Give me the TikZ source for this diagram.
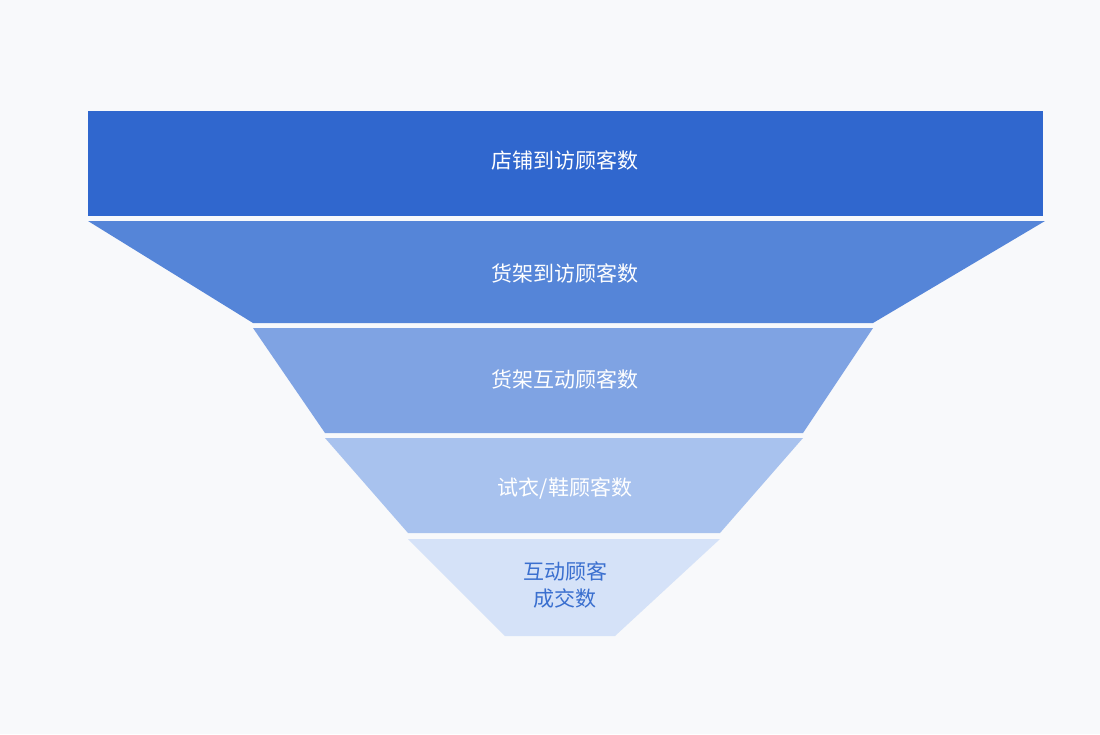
\documentclass[tikz,border=0pt]{standalone}
\usepackage{fontspec}
\setmainfont{Noto Sans CJK SC}
\definecolor{bg}{HTML}{F8F9FB}
\definecolor{lvone}{HTML}{3067CE}
\definecolor{lvtwo}{HTML}{5585D8}
\definecolor{lvthree}{HTML}{7FA3E3}
\definecolor{lvfour}{HTML}{A8C2EE}
\definecolor{lvfive}{HTML}{D5E2F8}
\definecolor{bluetext}{HTML}{3A6FCF}
\tikzset{
  label/.style={font=\fontsize{21}{27}\selectfont, text=white, align=center},
}
\begin{document}
\begin{tikzpicture}[x=1pt,y=-1pt]

	\fill[bg] (0,0) rectangle (1100,734);
	\useasboundingbox (0,0) rectangle (1100,734);

	\fill[lvone] (88,111) rectangle (1043,216);
	\fill[lvtwo] (88,221) -- (1045,221) -- (873,323) -- (253,323) -- cycle;
	\fill[lvthree] (253,328) -- (873,328) -- (803,433) -- (325,433) -- cycle;
	\fill[lvfour] (325,438) -- (803,438) -- (720,533) -- (408,533) -- cycle;
	\fill[lvfive] (408,539) -- (720,539) -- (615,636) -- (505,636) -- cycle;

   \node[label] (shop) at (565,160) {店铺到访顾客数};
   \node[label] (shelf) at (565,273) {货架到访顾客数};
   \node[label] (touch) at (565,379) {货架互动顾客数};
   \node[label] (try) at (565,488) {试衣/鞋顾客数};
   \node[label, text=bluetext] (deal) at (565,585) {互动顾客\\成交数};
\end{tikzpicture}
\end{document}
